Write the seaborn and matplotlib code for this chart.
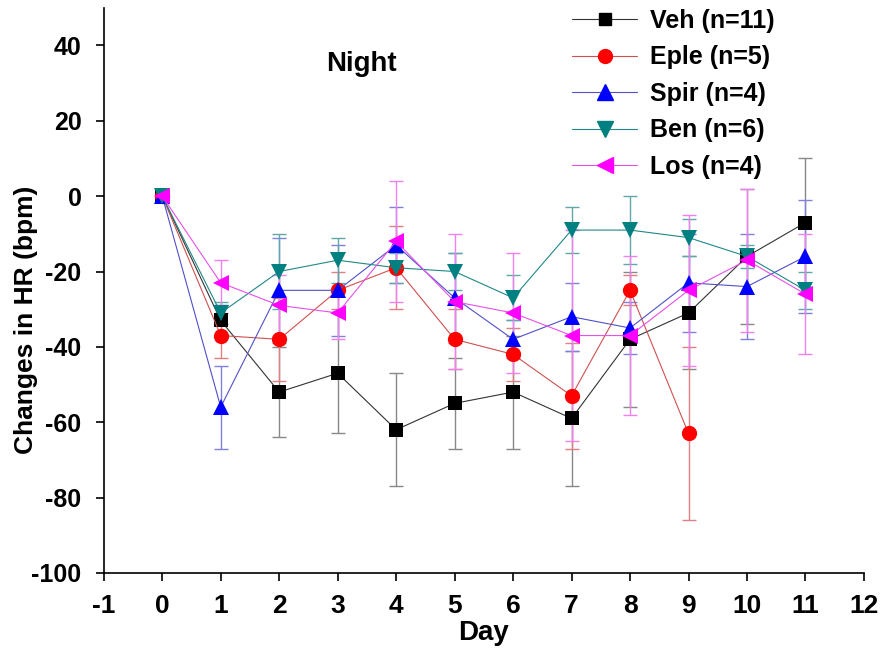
import numpy as np
import pandas as pd
import matplotlib
matplotlib.use("Agg")
import matplotlib.pyplot as plt
import seaborn as sns
from matplotlib.lines import Line2D

days = [0, 1, 2, 3, 4, 5, 6, 7, 8, 9, 10, 11]
groups = ["Veh (n=11)", "Eple (n=5)", "Spir (n=4)", "Ben (n=6)", "Los (n=4)"]

veh_mean = [0, -33, -52, -47, -62, -55, -52, -59, -38, -31, -16, -7]
veh_err = [0, 4, 12, 16, 15, 12, 15, 18, 18, 15, 18, 17]
eple_mean = [0, -37, -38, -25, -19, -38, -42, -53, -25, -63, np.nan, np.nan]
eple_err = [0, 6, 11, 5, 11, 8, 7, 14, 4, 23, np.nan, np.nan]
spir_mean = [0, -56, -25, -25, -13, -27, -38, -32, -35, -23, -24, -16]
spir_err = [0, 11, 14, 12, 10, 12, 5, 9, 7, 13, 14, 15]
ben_mean = [0, -31, -20, -17, -19, -20, -27, -9, -9, -11, -16, -25]
ben_err = [0, 3, 10, 6, 4, 5, 6, 6, 9, 5, 3, 5]
los_mean = [0, -23, -29, -31, -12, -28, -31, -37, -37, -25, -17, -26]
los_err = [0, 6, 8, 7, 16, 18, 16, 28, 21, 20, 19, 16]

means = [veh_mean, eple_mean, spir_mean, ben_mean, los_mean]
errs = [veh_err, eple_err, spir_err, ben_err, los_err]

colors = ["#000000", "#FF0000", "#0000FF", "#008080", "#FF00FF"]
line_colors = ["#333333", "#D05050", "#5050C8", "#208888", "#E850E8"]
err_colors = ["#888888", "#E08080", "#8080E0", "#60A8A8", "#F080F0"]
markers = ["s", "o", "^", "v", "<"]
msizes = [10, 11, 12, 12, 12]

rows = []
for g, m, e in zip(groups, means, errs):
    for d, v, s in zip(days, m, e):
        rows.append({"Day": d, "HR": v, "err": s, "Group": g})
df = pd.DataFrame(rows)

sns.set_style("ticks")
plt.rcParams["font.family"] = ["Liberation Sans", "DejaVu Sans"]
plt.rcParams["font.weight"] = "bold"
plt.rcParams["axes.unicode_minus"] = False
plt.rcParams["text.color"] = "black"
plt.rcParams["axes.labelcolor"] = "black"
plt.rcParams["xtick.color"] = "black"
plt.rcParams["ytick.color"] = "black"
plt.rcParams["axes.edgecolor"] = "black"

fig = plt.figure(figsize=(8.87, 6.51), dpi=100)
ax = fig.add_axes([0.117, 0.12, 0.857, 0.868])

for i, g in enumerate(groups):
    sub = df[df["Group"] == g].dropna()
    ax.errorbar(sub["Day"], sub["HR"], yerr=sub["err"], fmt="none",
                ecolor=err_colors[i], elinewidth=1.0, capsize=5, capthick=1.0,
                zorder=1 + i * 0.1)

sns.lineplot(data=df.dropna(), x="Day", y="HR", hue="Group", style="Group",
             hue_order=groups, style_order=groups,
             palette=dict(zip(groups, line_colors)),
             markers=dict(zip(groups, markers)), dashes=False,
             errorbar=None, linewidth=0.8, markersize=10,
             markeredgewidth=0, legend=False, ax=ax, zorder=3)

for line, c, ms in zip(ax.get_lines()[-len(groups):], colors, msizes):
    line.set_markerfacecolor(c)
    line.set_markeredgecolor(c)
    line.set_markersize(ms)

ax.set_xlim(-1, 12)
ax.set_ylim(-100, 50)
ax.set_xticks(range(-1, 13))
ax.set_yticks(range(-100, 41, 20))
ax.tick_params(axis="both", direction="out", length=6, width=1.2, colors="black")
ax.tick_params(axis="y", pad=10)
ax.tick_params(axis="x", pad=9)
for lab in ax.get_yticklabels():
    lab.set_fontweight("bold")
    lab.set_fontsize(18)
for lab in ax.get_xticklabels():
    lab.set_fontweight("bold")
    lab.set_fontsize(19)
for sp in ["top", "right"]:
    ax.spines[sp].set_visible(False)
for sp in ["left", "bottom"]:
    ax.spines[sp].set_linewidth(1.2)
    ax.spines[sp].set_color("black")

ax.set_xlabel("Day", fontsize=20, fontweight="bold")
ax.xaxis.set_label_coords(0.5, -0.084)
ax.set_ylabel("Changes in HR (bpm)", fontsize=19, fontweight="bold")
ax.yaxis.set_label_coords(-0.086, 0.448)
ax.text(3.4, 35, "Night", fontsize=20, fontweight="bold", ha="center", va="center")

handles = [Line2D([0], [0], color=line_colors[i], lw=0.8, marker=markers[i],
                  markersize=msizes[i] - 1, markerfacecolor=colors[i],
                  markeredgecolor=colors[i])
           for i in range(len(groups))]
fig.legend(handles, groups, loc="upper left", bbox_to_anchor=(0.62, 1.021),
           frameon=False, prop={"size": 18, "weight": "bold"},
           handlelength=2.6, handletextpad=0.5, labelspacing=0.5)

fig.savefig("out.png", dpi=100)
